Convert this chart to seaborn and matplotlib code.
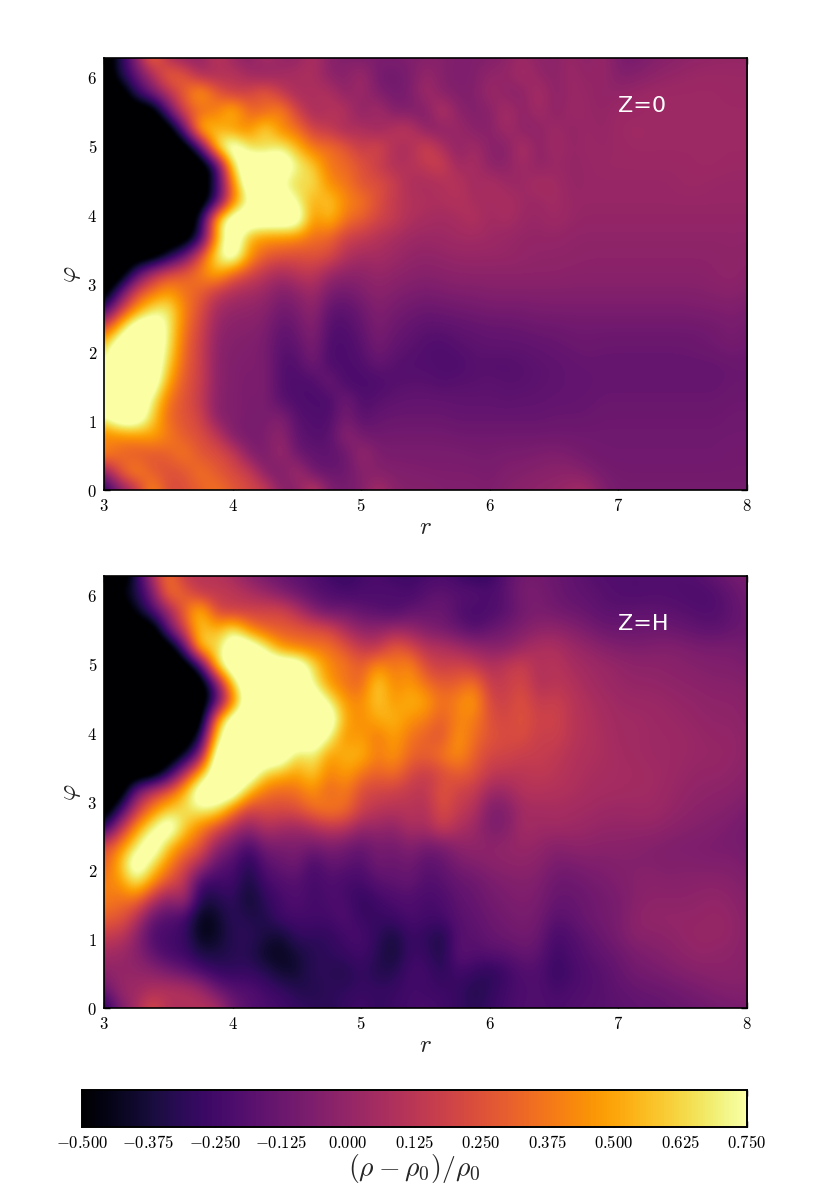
import numpy as np
import pandas as pd
import matplotlib
matplotlib.use("Agg")
import matplotlib.pyplot as plt
import seaborn as sns

# radius axis: 41 nodes from 3 to 8; azimuth axis: 25 nodes from 0 to 2*pi
r_nodes = np.linspace(3, 8, 41)
phi_nodes = np.linspace(0, 2 * np.pi, 25)
r_ticks = [3, 4, 5, 6, 7, 8]
phi_ticks = [0, 1, 2, 3, 4, 5, 6]
cbar_ticks = [-0.5, -0.375, -0.25, -0.125, 0.0, 0.125, 0.25, 0.375, 0.5, 0.625, 0.75]

# density contrast, in hundredths; rows run from phi=0 upward
z0_density = [
 [-35,-8,10,48,22,24,30,38,28, 22,18,-3,-6,18,-6,-9,-6, 8,-3,-5,-4,-6,-6,-6,-7, -4,-3,-1,0,3,6,-6,-9, -9,-9,-9,-9,-9,-9,-9,-9],
 [-5,30,45,28,24,26,38,28,22, 18,-4,-10,8,-13,-14,-12,-4, -5,-6,-6,-7,-7,-7,-7,-8, -6,-5,-4,-3,-2,-6,-9,-10, -10,-10,-10,-10,-10,-10,-10,-10],
 [45,32,26,26,30,40,26,24,18, -5,-10,5,-13,-15,-16,-14,3, -7,-8,-8,-8,-8,-8,-9,-9, -8,-8,-7,-6,-8,-10,-11,-11, -11,-11,-11,-11,-11,-11,-10,-10],
 [38,42,45,50,40,28,24,15,-7, -9,-7,0,-16,-19,-19,0,-10, -11,-10,-10,-10,-10,-11,-11,-11, -11,-11,-11,-11,-11,-11,-11,-11, -11,-11,-11,-11,-11,-11,-11,-11],
 [72,75,75,62,32,26,20,-4,-6, -8,-9,-4,-19,-20,-21,-8,-18, -14,-13,-13,-13,-13,-14,-14,-14, -14,-14,-14,-13,-13,-13,-12,-12, -12,-12,-12,-12,-12,-12,-11,-11],
 [75,75,75,72,36,26,15,-4,-6, -8,-7,-19,-21,-22,-23,-9,-21, -18,-16,-15,-15,-15,-16,-16,-16, -17,-16,-16,-15,-15,-14,-13,-13, -13,-13,-13,-13,-13,-13,-12,-12],
 [75,75,75,75,50,27,18,-3,-6, -8,-6,-20,-21,-22,-10,-23,-23, -22,-19,-18,-18,-20,-18,-18,-17, -18,-18,-17,-16,-15,-15,-14,-14, -14,-14,-14,-14,-14,-14,-13,-13],
 [72,75,75,75,62,30,18,-3,-6, -7,-7,-20,-20,-9,-22,-22,-20, -14,-18,-20,-20,-21,-22,-18,-19, -19,-18,-17,-16,-15,-14,-14,-14, -14,-14,-14,-14,-14,-14,-13,-13],
 [60,75,75,75,70,32,18,-3,-5, -6,-8,-18,-16,-6,-22,-22,-18, -9,-15,-17,-20,-21,-18,-17,-16, -16,-16,-15,-14,-13,-12,-13,-13, -13,-13,-13,-13,-12,-11,-9,-11],
 [22,60,75,75,72,36,20,0,-4, -4,-6,-16,-12,-3,-20,-20,-15, -7,-12,-15,-17,-17,-16,-15,-14, -14,-13,-12,-12,-11,-11,-11,-11, -11,-11,-11,-11,-11,-10,-8,-10],
 [-30,15,45,68,72,40,24,4,0, -1,-3,-11,-8,0,-16,-17,-12, -5,-9,-11,-13,-12,-11,-10,-9, -9,-9,-8,-8,-8,-8,-8,-8, -8,-8,-8,-8,-7,-7,-6,-8],
 [-50,-20,22,35,48,36,30,16,8, 5,2,-6,-2,5,-8,-10,-6, -2,-5,-7,-8,-7,-6,-6,-5, -5,-5,-5,-5,-5,-5,-5,-5, -5,-5,-5,-5,-5,-4,-3,-5],
 [-50,-50,-22,10,25,30,40,55,32, 22,12,5,12,14,2,-2,-2, 1,-1,-3,-4,-3,-2,-2,-2, -2,-2,-2,-2,-3,-3,-3,-3, -3,-3,-3,-3,-3,-2,-1,-3],
 [-50,-50,-50,-50,-42,-15,25,70,75, 48,30,26,24,26,24,10,5, 6,3,0,-1,0,1,1,1, 1,0,-1,-1,-1,-2,-2,-2, -2,-2,-2,-2,-2,-2,-1,-2],
 [-50,-50,-50,-50,-50,-50,-35,50,75, 52,45,45,42,35,32,18,15, 10,6,3,2,3,4,4,3, 1,0,0,0,-1,-1,-1,-1, -1,-1,-1,-1,-1,-1,-1,-1],
 [-50,-50,-50,-50,-50,-50,-40,62,75, 75,75,75,75,42,58,36,30, 20,16,8,6,4,6,10,3, 7,2,1,4,1,0,0,0, 0,0,0,0,0,0,0,0],
 [-50,-50,-50,-50,-50,-50,-50,-30,38, 72,75,75,72,50,62,42,38, 25,14,10,8,8,10,6,5, 8,3,2,5,1,1,1,1, 1,1,1,1,1,1,1,1],
 [-50,-50,-50,-50,-50,-50,-50,-30,42, 75,75,72,60,68,42,38,25, 25,18,7,6,8,12,3,9, 2,2,7,5,0,1,1,1, 1,1,1,2,2,1,1,1],
 [-50,-50,-50,-50,-50,-50,-50,-35,70, 75,75,75,72,60,36,34,26, 16,8,10,14,20,2,8,-3, -2,5,-2,2,0,1,2,2, 2,2,2,2,3,3,2,2],
 [-50,-50,-50,-50,-50,-50,-25,70,75, 65,60,72,55,36,36,28,14, 24,8,6,22,8,-3,6,-4, -5,10,-3,5,0,2,1,2, 3,3,3,3,3,3,3,3],
 [-50,-50,-50,-50,-50,-15,65,55,42, 42,68,40,36,18,14,4,10, 0,12,14,-3,-4,4,-4,-4, 6,-3,-2,4,-1,2,0,3, 4,3,3,3,3,3,3,3],
 [-50,-50,-50,-50,-15,25,30,38,62, 32,30,45,20,4,10,12,-5, 8,-6,-6,-7,14,-3,-6,-4, 8,-3,6,-3,3,1,0,2, 2,3,3,3,3,3,3,3],
 [-50,-50,-30,-8,10,30,55,30,15, 20,32,15,4,8,10,-3,4, -6,-10,-8,6,-4,-6,-6,4, -3,-3,8,-3,2,1,-1,0, 2,3,3,3,3,3,2,2],
 [-50,-35,-15,5,35,28,5,6,12, 4,-2,4,8,8,-3,-4,5, -10,-11,-8,2,-5,-7,-6,0, 0,6,0,-3,3,-1,2,-6, -5,-2,0,1,2,2,2,2],
 [-50,-35,-5,40,5,-2,-2,15,2, -4,8,0,-2,10,-4,-6,-8, -7,-7,-6,-5,-4,-7,-6,-6, -2,3,-2,-3,2,-3,2,-8, -9,-6,-4,-2,-1,0,0,0],
]

zh_density = [
 [-35,-8,5,25,8,8,10,10,-12, -18,-22,-24,-28,-30,-32,-28,-24, -30,-26,-24,-22,-25,-28,-32,-28, -23,-21,-20,-22,-20,-18,-18,-17, -16,-15,-14,-13,-12,-10,-9,-8],
 [-15,2,3,8,10,10,5,-12,-18, -20,-24,-28,-33,-34,-30,-30,-28, -28,-28,-24,-26,-26,-28,-34,-30, -24,-22,-20,-24,-22,-20,-18,-16, -14,-13,-12,-10,-8,-6,-5,-5],
 [-2,0,0,-2,-8,-14,-22,-28,-30, -28,-32,-40,-40,-30,-32,-34,-28, -34,-33,-24,-24,-32,-24,-28,-32, -26,-20,-20,-28,-24,-20,-18,-14, -10,-9,-7,-5,-4,-3,-3,-4],
 [4,2,-3,-15,-24,-26,-35,-36,-32, -32,-42,-44,-38,-32,-30,-28,-24, -32,-40,-26,-28,-36,-16,-20,-18, -18,-14,-16,-26,-22,-18,-15,-12, -8,-6,-4,-2,0,-1,-2,-4],
 [15,14,-2,-22,-24,-26,-46,-42,-32, -30,-36,-40,-28,-30,-30,-24,-22, -30,-38,-26,-30,-36,-18,-18,-14, -12,-10,-12,-24,-20,-16,-12,-8, -3,-3,-2,0,1,1,0,-4],
 [30,28,12,-15,-20,-24,-46,-42,-30, -34,-35,-24,-24,-24,-24,-20,-28, -28,-26,-22,-24,-24,-18,-16,-12, -10,-8,-10,-18,-16,-12,-10,-8, -2,0,0,0,0,1,0,-4],
 [40,35,35,12,-5,8,-36,-34,-28, -42,-30,-24,-20,-25,-22,-22,-30, -25,-22,-20,-24,-22,-16,-14,-10, -8,-6,-8,-14,-14,-12,-10,-8, -4,-2,-2,-2,-1,0,-2,-5],
 [40,45,72,45,25,14,-26,-26,-24, -38,-24,-20,-18,-25,-20,-24,-24, -18,-16,-14,-20,-18,-14,-12,-8, -6,-5,-6,-12,-12,-10,-8,-6, -4,-3,-4,-4,-3,-3,-4,-6],
 [28,55,75,68,42,22,8,-16,-20, -34,-18,-14,-10,-24,-14,-16,-20, -10,-14,-10,-18,-15,-8,-6,-3, -2,-1,-3,-8,-8,-6,-6,-5, -5,-5,-6,-5,-6,-6,-6,-8],
 [22,40,68,75,58,40,28,0,-10, -24,-8,-8,-6,-10,-6,-10,-14, -8,-10,-4,-10,-8,-2,0,-2, 0,1,0,-4,-2,-2,-3,-3, -4,-5,-6,-7,-7,-8,-8,-10],
 [-35,10,45,72,75,60,40,24,8, -2,10,5,2,8,14,12,0, 2,-2,8,5,18,8,3,-8, -6,6,3,4,3,2,0,0, 0,0,-2,-4,-5,-6,-8,-10],
 [-50,-30,15,40,60,65,72,70,40, 18,24,22,25,35,40,35,18, 12,10,12,8,25,15,10,-8, -6,5,5,6,5,4,3,2, 3,3,1,-1,-3,-4,-5,-8],
 [-50,-50,-10,15,28,55,75,75,75, 55,36,32,35,45,30,40,22, 20,18,14,12,28,18,16,2, 3,10,10,9,8,6,5,5, 4,4,2,0,-1,-2,-3,-5],
 [-50,-50,-50,-50,-35,10,55,75,75, 75,62,55,48,62,38,50,36, 30,36,22,15,22,30,25,14, 12,12,14,12,9,7,6,5, 5,4,3,1,0,0,-1,-3],
 [-50,-50,-50,-50,-50,-45,-5,75,75, 75,75,75,60,72,45,55,55, 38,48,32,30,38,45,30,20, 20,16,16,14,10,8,7,5, 4,3,3,2,1,1,0,-2],
 [-50,-50,-50,-50,-50,-50,-40,70,75, 75,75,75,75,75,72,42,50, 35,50,36,30,25,48,34,26, 22,24,16,18,12,9,7,4, 4,3,3,2,1,0,0,-2],
 [-50,-50,-50,-50,-50,-50,-50,45,75, 75,75,75,75,75,75,50,42, 52,55,45,40,28,42,40,24, 20,26,18,20,12,9,6,4, 4,3,2,1,0,-1,-1,-3],
 [-50,-50,-50,-50,-50,-50,-50,-25,35, 75,75,75,75,75,72,45,42, 62,45,55,50,34,42,50,20, 18,26,14,18,12,8,5,3, 2,2,1,0,-1,-2,-2,-4],
 [-50,-50,-50,-50,-50,-50,-50,-15,65, 75,75,75,75,72,45,36,30, 65,40,48,35,28,30,38,14, 16,22,8,12,10,5,3,1, 0,0,-1,-2,-3,-4,-4,-5],
 [-50,-50,-50,-50,-50,-50,-30,68,75, 75,75,75,75,65,42,38,28, 45,36,44,22,16,20,15,8, 14,18,8,12,6,4,2,0, -2,-2,-3,-4,-5,-6,-6,-8],
 [-50,-50,-50,-50,-50,-20,68,60,75, 75,72,45,38,36,36,26,14, 12,30,22,10,10,4,0,-3, -4,3,8,8,3,0,-4,-6, -7,-6,-5,-6,-8,-8,-8,-10],
 [-50,-50,-50,-50,-12,22,60,52,72, 42,30,28,28,25,22,6,-2, -2,2,0,-6,-10,-14,-20,-14, -10,-6,-2,-1,-4,-8,-12,-13, -13,-12,-12,-14,-16,-17,-14,-12],
 [-50,-50,-45,-22,0,32,62,20,15, 18,20,22,10,-5,-14,-10,-16, -18,-22,-15,-14,-12,-20,-24,-22, -18,-10,-8,-10,-12,-14,-17,-17, -16,-16,-17,-18,-20,-20,-16,-12],
 [-50,-48,-35,-10,40,30,12,14,14, 8,2,-6,-12,-18,-20,-24,-22, -22,-20,-24,-18,-16,-18,-18,-22, -16,-8,-8,-12,-15,-16,-18,-20, -21,-20,-20,-21,-22,-20,-15,-10],
 [-50,-50,-35,8,38,12,11,11,4, -4,-10,-14,-18,-20,-26,-28,-24, -22,-26,-26,-24,-22,-26,-30,-28, -18,-10,-10,-13,-15,-18,-20,-20, -20,-20,-20,-20,-18,-14,-10,-8],
]

sns.set_style("white")
plt.rcParams.update({
    "font.family": ["DejaVu Sans"],
    "mathtext.fontset": "cm",
    "xtick.direction": "in", "ytick.direction": "in",
    "xtick.color": "black", "ytick.color": "black",
    "axes.edgecolor": "black", "axes.linewidth": 1.2,
})

W, H = 830, 1186
fig = plt.figure(figsize=(W / 100, H / 100), dpi=100)
def box(l, t, r, b):
    return [l / W, 1 - b / H, (r - l) / W, (b - t) / H]
ax1 = fig.add_axes(box(104, 58, 747, 490))
ax2 = fig.add_axes(box(104, 576, 747, 1008))
cax = fig.add_axes(box(82, 1090, 747, 1127))

cmap = sns.color_palette("inferno", as_cmap=True)
ri = lambda v: np.interp(v, r_nodes, np.arange(len(r_nodes)))
pi_ = lambda v: np.interp(v, phi_nodes, np.arange(len(phi_nodes)))

def panel(ax, rows, label, use_cbar):
    values = np.array(rows, dtype=float)
    frame = pd.DataFrame(values / 100, index=np.round(phi_nodes, 3), columns=r_nodes)
    sns.heatmap(frame, ax=ax, cmap=cmap, vmin=-0.5, vmax=0.75, shading="gouraud",
                xticklabels=False, yticklabels=False, linewidths=0, edgecolor="none",
                cbar=use_cbar, cbar_ax=cax if use_cbar else None,
                cbar_kws={"orientation": "horizontal"} if use_cbar else None)
    # saturated cells lie beyond the colour limits, which keeps their rims sharp when smoothed
    beyond = values.copy()
    beyond[values >= 75] = 95
    beyond[values <= -50] = -65
    ax.imshow(beyond / 100, origin="lower", aspect="auto", cmap=cmap, vmin=-0.5, vmax=0.75,
              interpolation="bicubic", interpolation_stage="data",
              extent=(-0.5, len(r_nodes) - 0.5, -0.5, len(phi_nodes) - 0.5), zorder=2)
    ax.set_xlim(0, len(r_nodes) - 1)
    ax.set_ylim(0, len(phi_nodes) - 1)
    ax.set_xticks([ri(v) for v in r_ticks], [f"${v}$" for v in r_ticks], fontsize=12, rotation=0)
    ax.set_yticks([pi_(v) for v in phi_ticks], [f"${v}$" for v in phi_ticks], fontsize=12, rotation=0)
    ax.tick_params(axis="both", which="major", direction="in", length=4, width=1,
                   top=True, right=True, bottom=True, left=True, color="black", pad=5)
    for s in ax.spines.values():
        s.set_visible(True); s.set_color("black"); s.set_linewidth(1.2); s.set_zorder(5)
    ax.set_xlabel(r"$r$", fontsize=18, labelpad=0)
    ax.set_ylabel(r"$\varphi$", fontsize=18, labelpad=3)
    ax.text(ri(7.0), pi_(5.58), label, color="white", fontsize=16, ha="left", va="center", zorder=6)

panel(ax1, z0_density, "Z=0", False)
panel(ax2, zh_density, "Z=H", True)

cax.set_xticks(cbar_ticks, [f"${v:.3f}$" for v in cbar_ticks], fontsize=12)
cax.tick_params(axis="x", direction="in", length=4, width=1, top=True, bottom=True, color="black", pad=5)
cax.set_xlabel(r"$(\rho-\rho_0)/\rho_0$", fontsize=20, labelpad=0)
for s in cax.spines.values():
    s.set_visible(True); s.set_color("black"); s.set_linewidth(1.2)

fig.savefig("out.png", dpi=100)
